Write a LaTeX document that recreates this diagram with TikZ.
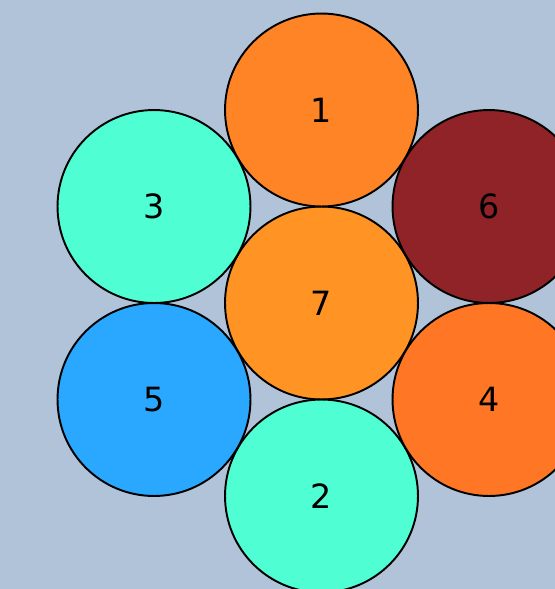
\documentclass[tikz,border=0pt]{standalone}
\usepackage{fontspec}
\setmainfont{DejaVu Sans}
\usepackage{xcolor}
\usepackage{tikz}
\usetikzlibrary{positioning}

\definecolor{bgblue}{HTML}{B0C3D8}
\definecolor{orangeA}{HTML}{FF8426}
\definecolor{orangeB}{HTML}{FF9324}
\definecolor{orangeC}{HTML}{FF7724}
\definecolor{darkred}{HTML}{8F2327}
\definecolor{aqua}{HTML}{4FFFD3}
\definecolor{skyblue}{HTML}{2AA8FF}

\begin{document}
\begin{tikzpicture}[
    x=0.02cm, y=-0.02cm,
    ball/.style={circle, draw=black, line width=1.1pt, minimum size=3.86cm, inner sep=0pt,
        font=\fontsize{19}{22}\selectfont}
]
% background and page size
\fill[bgblue] (0,0) rectangle (555,589);
\useasboundingbox (0,0) rectangle (555,589);

% hexagonal packing of seven balls
\node[ball, fill=orangeB] (seven) at (321.5,303) {7};
\node[ball, fill=orangeA] (one) at (321.5,110) {1};
\node[ball, fill=aqua] (two) at (321.5,496) {2};
\node[ball, fill=aqua] (three) at (154,206.5) {3};
\node[ball, fill=skyblue] (five) at (154,399.5) {5};
\node[ball, fill=darkred] (six) at (489,206.5) {6};
\node[ball, fill=orangeC] (four) at (489,399.5) {4};
\end{tikzpicture}
\end{document}
